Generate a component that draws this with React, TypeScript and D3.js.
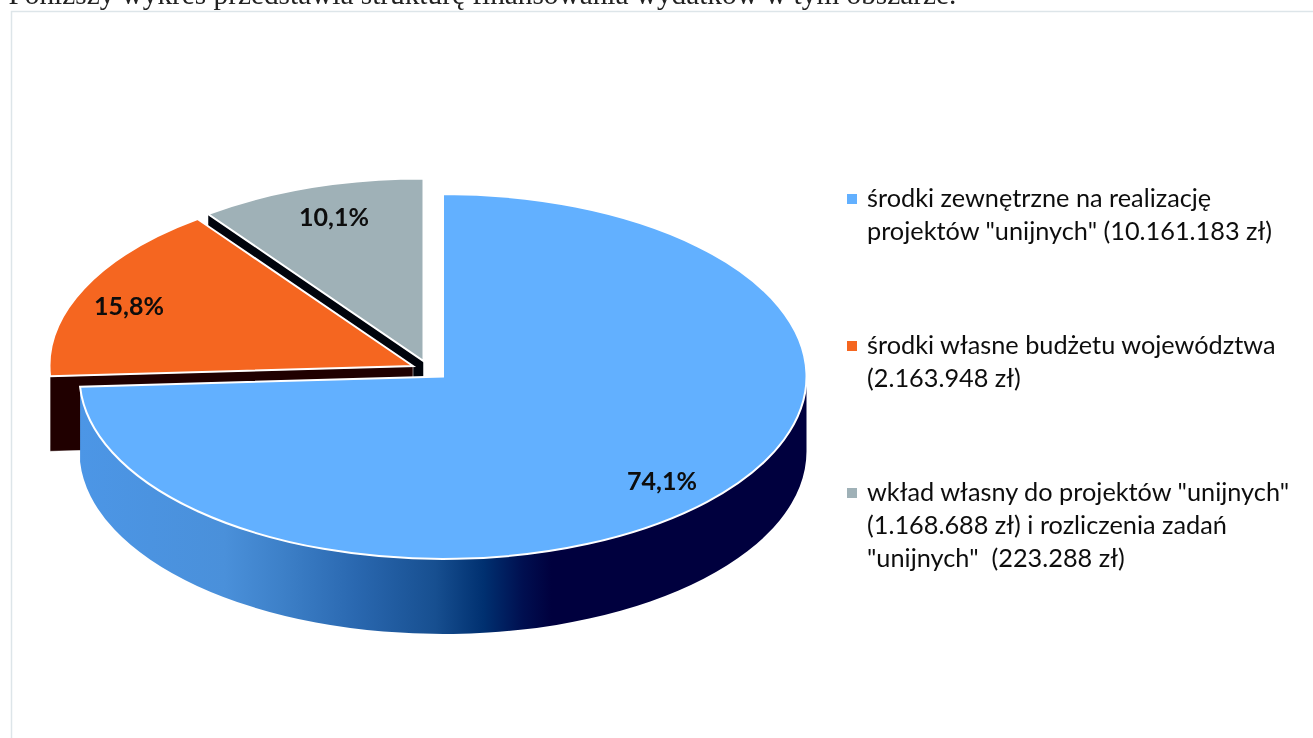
import React from "react";
import * as d3 from "d3";

const introText = "Poniższy wykres przedstawia strukturę finansowania wydatków w tym obszarze.";
const shares = [74.1, 15.8, 10.1];
const shareLabels = ["74,1%", "15,8%", "10,1%"];
const sliceColors = ["#62b0ff", "#f56620", "#9fb1b7"];
const wallColors = ["url(#blueWall)", "#200000", "#00040c"];
const legendLines = [
  ['środki zewnętrzne na realizację', 'projektów "unijnych" (10.161.183 zł)'],
  ["środki własne budżetu województwa", "(2.163.948 zł)"],
  ['wkład własny do projektów "unijnych"', "(1.168.688 zł) i rozliczenia zadań", '"unijnych"  (223.288 zł)'],
];

const width = 1313;
const height = 738;
const rx = 363.5;
const ry = 182.5;
const depth = 75;
// exploded slice centres
const centers = [
  { x: 443, y: 376.5 },
  { x: 413, y: 366 },
  { x: 423.5, y: 361 },
];
const labelPos = [
  { x: 662, y: 490 },
  { x: 129, y: 315 },
  { x: 334, y: 226 },
];
const legendX = 867;
const legendY = [207, 354, 501];
const lineGap = 33;

const pie = d3.pie<number>().sort(null).value((d) => d);
const arcs = pie(shares);
const arcGen = d3.arc<d3.PieArcDatum<number>>().innerRadius(0).outerRadius(rx);

const pt = (i: number, a: number) => [
  centers[i].x + rx * Math.sin(a),
  centers[i].y - ry * Math.cos(a),
];

// outer rim, front half only
const rimPath = (i: number, a0: number, a1: number) => {
  const from = Math.max(a0, Math.PI / 2);
  const [x0, y0] = pt(i, from);
  const [x1, y1] = pt(i, a1);
  const large = a1 - from > Math.PI ? 1 : 0;
  return `M${x0},${y0}A${rx},${ry} 0 ${large} 1 ${x1},${y1}L${x1},${y1 + depth}A${rx},${ry} 0 ${large} 0 ${x0},${y0 + depth}Z`;
};

// flat cut face running from the centre to the rim
const cutPath = (i: number, a: number) => {
  const { x, y } = centers[i];
  const [x1, y1] = pt(i, a);
  return `M${x},${y}L${x1},${y1}L${x1},${y1 + depth}L${x},${y + depth}Z`;
};

export default function App() {
  const drawOrder = [2, 1, 0];
  return (
    <svg
      width={width}
      height={height}
      style={{ position: "absolute", left: 0, top: 0, display: "block", background: "#fff" }}
    >
      <defs>
        <linearGradient id="blueWall" gradientUnits="userSpaceOnUse" x1={79} x2={806} y1={0} y2={0}>
          <stop offset="0" stopColor="#4c96e6" />
          <stop offset="0.2" stopColor="#4a90da" />
          <stop offset="0.28" stopColor="#3d80c8" />
          <stop offset="0.38" stopColor="#2a68b0" />
          <stop offset="0.49" stopColor="#174f90" />
          <stop offset="0.557" stopColor="#003070" />
          <stop offset="0.61" stopColor="#000f50" />
          <stop offset="0.65" stopColor="#00003e" />
          <stop offset="1" stopColor="#00003e" />
        </linearGradient>
        <filter id="soft" x="-5%" y="-20%" width="110%" height="140%">
          <feGaussianBlur stdDeviation="0.45" />
        </filter>
      </defs>

      <text x={8.5} y={4} fontFamily="'Liberation Serif', serif" fontSize={29.3} fill="#222" filter="url(#soft)">
        {introText}
      </text>
      <path d={`M11.5,${height}V11.5H${width}`} fill="none" stroke="#dde5e9" strokeWidth={1.5} />

      {drawOrder.map((i) => {
        const d = arcs[i];
        const { x, y } = centers[i];
        return (
          <g key={i}>
            {i !== 0 && (
              <path d={cutPath(i, d.startAngle)} fill={wallColors[i]} stroke="#fff" strokeOpacity={0.5} strokeWidth={1} />
            )}
            {i === 0 && <path d={rimPath(i, d.startAngle, d.endAngle)} fill={wallColors[i]} />}
            <path
              d={arcGen(d) as string}
              transform={`translate(${x},${y}) scale(1,${ry / rx})`}
              fill={sliceColors[i]}
              stroke="#fff"
              strokeWidth={2}
              vectorEffect="non-scaling-stroke"
            />
          </g>
        );
      })}

      {shareLabels.map((t, i) => (
        <text
          key={t}
          x={labelPos[i].x}
          y={labelPos[i].y}
          textAnchor="middle"
          fontFamily="Lato, sans-serif"
          fontWeight={700}
          fontSize={25}
          fill="#0a0a0a"
          filter="url(#soft)"
        >
          {t}
        </text>
      ))}

      {legendLines.map((lines, i) => (
        <g key={i}>
          <rect x={847} y={legendY[i] - 13} width={10} height={10} fill={sliceColors[i]} />
          {lines.map((line, j) => (
            <text
              key={j}
              x={legendX}
              y={legendY[i] + j * lineGap}
              fontFamily="Lato, sans-serif"
              fontSize={25.3}
              fill="#111"
              xmlSpace="preserve"
              filter="url(#soft)"
            >
              {line}
            </text>
          ))}
        </g>
      ))}
    </svg>
  );
}
